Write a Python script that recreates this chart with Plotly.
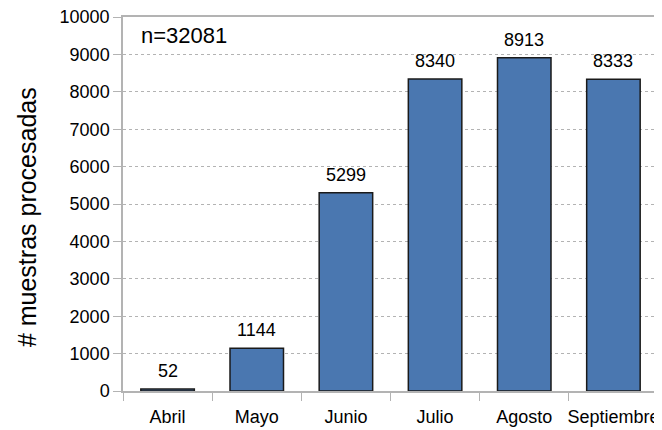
import plotly.graph_objects as go

meses = ["Abril", "Mayo", "Junio", "Julio", "Agosto", "Septiembre"]
muestras = [52, 1144, 5299, 8340, 8913, 8333]
total_label = "n=32081"
y_title = "# muestras procesadas"
y_ticks = list(range(0, 10001, 1000))
y_tick_text = [str(v) for v in y_ticks]

fig = go.Figure()
fig.add_trace(go.Bar(
    x=meses, y=muestras,
    marker=dict(color="#4a77b0", line=dict(color="#1a1a1a", width=1.5)),
    width=0.6,
))

annotations = [
    dict(x=m, y=v, xref="x", yref="y", text=str(v), showarrow=False,
         yanchor="bottom", yshift=6,
         font=dict(family="Liberation Sans", size=18, color="black"))
    for m, v in zip(meses, muestras)
]
annotations.append(dict(
    text=total_label, xref="paper", yref="paper", x=0.03, y=0.99,
    xanchor="left", yanchor="top", showarrow=False,
    font=dict(family="Liberation Sans", size=22, color="black"),
))
annotations.append(dict(
    text=y_title, xref="paper", yref="paper", x=-0.1794, y=0.465,
    xanchor="center", yanchor="middle", textangle=-90, showarrow=False,
    font=dict(family="Liberation Sans", size=25, color="black"),
))

fig.update_layout(
    width=654, height=422,
    margin=dict(l=115, r=4, t=9, b=39, autoexpand=False),
    paper_bgcolor="white", plot_bgcolor="white",
    font=dict(family="Liberation Sans", size=18, color="black"),
    showlegend=False,
    xaxis=dict(
        tickson="boundaries", ticks="outside", ticklen=8, tickcolor="#b3b3b3",
        showline=True, linecolor="#b3b3b3", linewidth=1.5, mirror=True,
        showgrid=False, tickfont=dict(size=18), tickangle=0, automargin=False,
        ticklabeloverflow="allow", ticklabelstandoff=9,
    ),
    yaxis=dict(
        range=[0, 10000], tickvals=y_ticks, ticktext=y_tick_text,
        ticks="outside", ticklen=8, tickcolor="#b3b3b3",
        showline=True, linecolor="#b3b3b3", linewidth=1.5, mirror=True,
        showgrid=True, gridcolor="#b3b3b3", griddash="dot", gridwidth=1,
        zeroline=False, tickfont=dict(size=18), automargin=False,
        ticklabeloverflow="allow",
    ),
    annotations=annotations,
)

fig.write_html("out.html")
